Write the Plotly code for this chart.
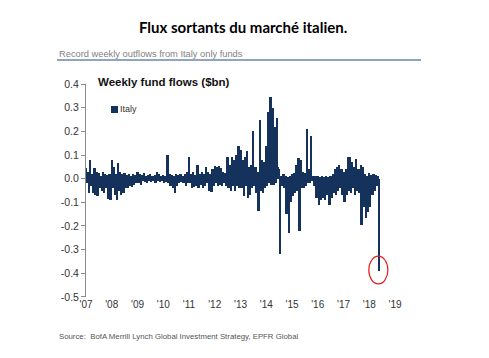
import pandas as pd
import plotly.graph_objects as go

# Semi-monthly readings of weekly fund flows into Italy-only funds ($bn), Jan 2007 - May 2018
flows_2007 = [0.045, -0.02, 0.03, -0.06, 0.077, -0.03, 0.02, -0.06, 0.045, -0.07, 0.03, -0.075,
              0.025, -0.04, 0.01, -0.05, 0.03, -0.06, 0.02, -0.04, 0.015, -0.085, 0.02, -0.09]
flows_2008 = [0.08, -0.04, 0.05, -0.07, 0.02, -0.09, 0.065, -0.05, 0.03, -0.07, 0.02, -0.06,
              0.025, -0.04, 0.015, -0.04, 0.02, -0.03, 0.01, -0.035, 0.02, -0.025, 0.015, -0.02]
flows_2009 = [0.03, -0.02, 0.02, -0.025, 0.015, -0.01, 0.025, -0.015, 0.01, -0.02, 0.015, -0.01,
              0.02, -0.015, 0.01, -0.01, 0.015, -0.02, 0.03, -0.01, 0.02, -0.015, 0.01, -0.01]
flows_2010 = [0.015, -0.02, 0.01, -0.015, 0.10, -0.02, 0.02, -0.03, 0.015, -0.04, 0.01, -0.06,
              0.02, -0.03, 0.015, -0.02, 0.02, -0.015, 0.01, -0.02, 0.02, -0.03, 0.03, -0.02]
flows_2011 = [0.09, -0.02, 0.02, -0.04, 0.03, -0.035, 0.015, -0.03, 0.06, -0.04, 0.02, -0.025,
              0.03, -0.04, 0.02, -0.03, 0.05, -0.02, 0.03, -0.05, 0.02, -0.055, 0.04, -0.03]
flows_2012 = [0.055, -0.02, 0.05, -0.03, 0.055, -0.025, 0.045, -0.03, 0.03, -0.02, 0.025, -0.03,
              0.09, -0.04, 0.06, -0.05, 0.09, -0.03, 0.08, -0.05, 0.10, -0.03, 0.14, -0.04]
flows_2013 = [0.12, -0.04, 0.08, -0.075, 0.09, -0.03, 0.115, -0.08, 0.05, -0.07, 0.06, -0.04,
              0.20, -0.03, 0.05, -0.06, 0.03, -0.138, 0.25, -0.05, 0.08, -0.06, 0.07, -0.04]
flows_2014 = [0.14, -0.03, 0.28, -0.02, 0.347, -0.025, 0.30, -0.025, 0.22, -0.02, 0.256, 0.05,
              0.04, -0.32, 0.01, -0.03, 0.02, -0.04, 0.01, -0.15, 0.005, -0.23, 0.01, -0.10]
flows_2015 = [0.02, -0.075, 0.025, -0.06, 0.06, -0.05, 0.087, -0.22, 0.08, -0.04, 0.03, -0.04,
              0.025, -0.03, 0.21, -0.02, 0.04, -0.02, 0.18, -0.01, 0.01, -0.03, 0.01, -0.08]
flows_2016 = [0.01, -0.11, 0.005, -0.09, 0.01, -0.08, 0.005, -0.09, 0.01, -0.07, 0.005, -0.11,
              0.01, -0.08, 0.02, -0.06, 0.04, -0.07, 0.05, -0.05, 0.06, -0.04, 0.04, -0.07]
flows_2017 = [0.03, -0.10, 0.04, -0.07, 0.09, -0.05, 0.09, -0.06, 0.07, -0.04, 0.05, -0.07,
              0.083, -0.05, 0.04, -0.06, 0.06, -0.195, 0.05, -0.12, 0.02, -0.165, 0.01, -0.14]
flows_2018 = [0.025, -0.12, 0.015, -0.07, 0.02, -0.05, 0.015, -0.03, 0.01, -0.39]

italy_flows = (flows_2007 + flows_2008 + flows_2009 + flows_2010 + flows_2011 + flows_2012 +
               flows_2013 + flows_2014 + flows_2015 + flows_2016 + flows_2017 + flows_2018)
dates = pd.date_range("2007-01-01", periods=len(italy_flows), freq="SMS")

y_tick_vals = [0.4, 0.3, 0.2, 0.1, 0.0, -0.1, -0.2, -0.3, -0.4, -0.5]
y_tick_text = ["0.4", "0.3", "0.2", "0.1", "0.0", "-0.1", "-0.2", "-0.3", "-0.4", "-0.5"]
x_tick_vals = [f"{y}-01-01" for y in range(2007, 2020)]
x_tick_text = ["'07", "'08", "'09", "'10", "'11", "'12", "'13", "'14", "'15", "'16", "'17", "'18", "'19"]

NAVY = "#14325c"
NARROW = "Liberation Sans Narrow, Arial Narrow, Liberation Sans, sans-serif"

# page body adds an 8px offset; plot area in screen pixels: x 86..395, y 84..297
OFF = 8
PX0, PX1, PY0, PY1 = 86, 395, 84, 297
PW, PH = PX1 - PX0, PY1 - PY0


def px(x):
    return (x - PX0) / PW


def py(y):
    return (PY1 - y) / PH


fig = go.Figure()
fig.add_trace(go.Bar(x=dates, y=italy_flows, name="Italy", marker_color=NAVY,
                     marker_line_width=0, width=33 * 86400000, showlegend=False))

# circle round the record outflow
imin = min(range(len(italy_flows)), key=lambda i: italy_flows[i])
dmin = dates[imin]
fig.add_shape(type="circle", xref="x", yref="y",
              x0=dmin - pd.Timedelta(days=140), x1=dmin + pd.Timedelta(days=130),
              y0=italy_flows[imin] - 0.055, y1=italy_flows[imin] + 0.062,
              line=dict(color="#e0201b", width=1.2))

# header line under subtitle
fig.add_shape(type="line", xref="paper", yref="paper",
              x0=px(57), x1=px(421), y0=py(60), y1=py(60),
              line=dict(color="#6a86aa", width=1.5))
# legend swatch
fig.add_shape(type="rect", xref="paper", yref="paper",
              x0=px(111), x1=px(118), y0=py(113), y1=py(106),
              fillcolor=NAVY, line_width=0)

fig.add_annotation(text="<b>Flux sortants du marché italien.</b>", xref="paper", yref="paper",
                   x=px(243), y=py(27), xanchor="center", yanchor="middle",
                   showarrow=False, font=dict(family="Lato, Open Sans, sans-serif", size=15, color="#000"))
fig.add_annotation(text="Record weekly outflows from Italy only funds", xref="paper", yref="paper",
                   x=px(57), y=py(54), xanchor="left", yanchor="middle",
                   showarrow=False, font=dict(family=NARROW, size=9.3, color="#7f7f7f"))
fig.add_annotation(text="<b>Weekly fund flows ($bn)</b>", xref="paper", yref="paper",
                   x=px(96), y=py(82), xanchor="left", yanchor="middle",
                   showarrow=False, font=dict(family="Liberation Sans, Arial, sans-serif", size=11.5, color="#111"))
fig.add_annotation(text="Italy", xref="paper", yref="paper",
                   x=px(118), y=py(109.5), xanchor="left", yanchor="middle",
                   showarrow=False, font=dict(family=NARROW, size=9, color="#333"))
fig.add_annotation(text="Source:  BofA Merrill Lynch Global Investment Strategy, EPFR Global",
                   xref="paper", yref="paper",
                   x=px(57), y=py(336), xanchor="left", yanchor="middle",
                   showarrow=False, font=dict(family=NARROW, size=7.8, color="#555"))

W, H = 489 - OFF, 358 - OFF
fig.update_layout(
    width=W, height=H,
    margin=dict(l=PX0 - OFF, r=W - (PX1 - OFF), t=PY0 - OFF, b=H - (PY1 - OFF), pad=0),
    paper_bgcolor="white", plot_bgcolor="white",
    bargap=0,
    showlegend=False,
    xaxis=dict(range=["2007-01-01", "2019-01-01"], tickvals=x_tick_vals, ticktext=x_tick_text,
               showgrid=False, zeroline=False, showline=False, ticks="",
               tickfont=dict(family=NARROW, size=10, color="#333")),
    yaxis=dict(range=[-0.5005, 0.4005], tickvals=y_tick_vals, ticktext=y_tick_text,
               showgrid=False, zeroline=False, showline=True, linecolor="#8c8c8c", linewidth=1,
               ticks="outside", ticklen=4, tickcolor="#8c8c8c",
               tickfont=dict(family=NARROW, size=10.5, color="#333")),
)

fig.write_html("out.html")
